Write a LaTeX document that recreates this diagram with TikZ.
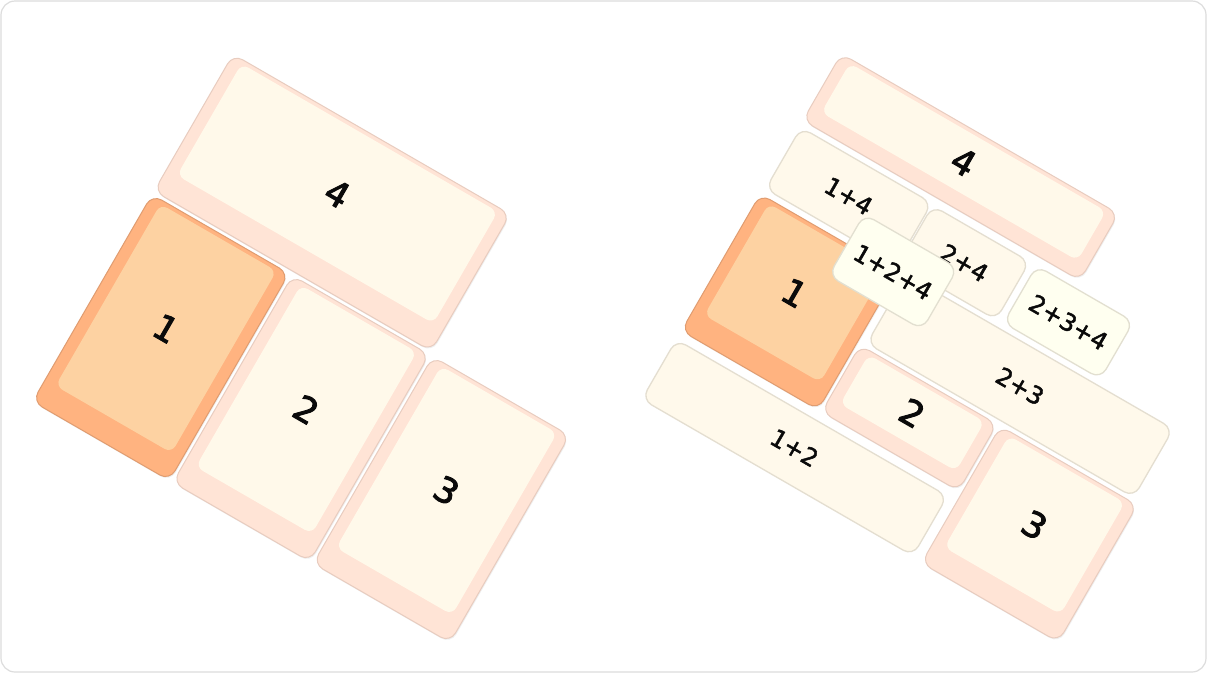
\documentclass[tikz,border=0pt]{standalone}
\usepackage{fontspec}
\setmainfont{DejaVu Sans}
\newfontfamily\keyfont[FakeBold=2.6]{DejaVu Sans}
\newfontfamily\combfont[FakeBold=2.0]{DejaVu Sans}
\usetikzlibrary{shadows}
\definecolor{kout}{HTML}{FFE4D6}
\definecolor{koutd}{HTML}{E8CCBF}
\definecolor{kin}{HTML}{FFF9EA}
\definecolor{oout}{HTML}{FFB380}
\definecolor{ooutd}{HTML}{E09C70}
\definecolor{oin}{HTML}{FDD2A2}
\definecolor{cb}{HTML}{FFF9EB}
\definecolor{cbd}{HTML}{E4DED0}
\definecolor{cbb}{HTML}{FFFFF0}
\definecolor{cbbd}{HTML}{E2DFD0}
\definecolor{frame}{HTML}{DDDDDD}
\definecolor{ink}{HTML}{0A0A0A}
\newcommand{\kdigitfont}{\keyfont\fontsize{35}{42}\selectfont}
\newcommand{\kcombofont}{\combfont\fontsize{24}{28}\selectfont}
\tikzset{
  keybase/.style={rectangle, inner sep=0pt, outer sep=0pt, transform shape},
  keyout/.style={keybase, draw=koutd, fill=kout, line width=1pt, rounded corners=11pt,
    drop shadow={opacity=0.12, shadow xshift=0.8pt, shadow yshift=-1.4pt}},
  keyin/.style={keybase, fill=kin, rounded corners=8pt},
  orgout/.style={keyout, draw=ooutd, fill=oout},
  orgin/.style={keyin, fill=oin},
  combo/.style={keybase, draw=cbd, fill=cb, line width=1.3pt, rounded corners=11pt},
  combob/.style={combo, draw=cbbd, fill=cbb},
  digitlabel/.style={inner sep=0pt, transform shape, font=\kdigitfont, text=ink},
  combolabel/.style={inner sep=0pt, transform shape, font=\kcombofont, text=ink},
}
% #1 name, #2 u, #3 v, #4 w, #5 h, #6 style prefix, #7 bottom inset, #8 label
\newcommand{\kcap}[8]{%
  \node[#6out, minimum width=#4pt, minimum height=#5pt] (#1) at (#2,-#3) {};
  \node[#6in, minimum width={#4pt-24pt}, minimum height={#5pt-4pt-#7pt}] (#1f) at (#2,{-#3+(#7-4)/2}) {};
  \node[digitlabel] (#1t) at (#1f.center) {#8};
}
% #1 name, #2 u, #3 v, #4 w, #5 h, #6 style, #7 label
\newcommand{\kcombo}[7]{%
  \node[#6, minimum width=#4pt, minimum height=#5pt] (#1) at (#2,-#3) {};
  \node[combolabel] (#1t) at (#1.center) {#7};
}
\begin{document}
\begin{tikzpicture}[x=1pt,y=1pt]
  \useasboundingbox (0,0) rectangle (1207,-673);
  \fill[white] (0,0) rectangle (1207,-673);
  \draw[frame, line width=1.2pt, rounded corners=14pt] (1,-1) rectangle (1206,-672);

  % left group
  \begin{scope}[shift={(151.35,-191.8)}, rotate=-30]
    \kcap{lfour}{162}{-81}{320}{158}{key}{25}{4}
    \kcap{lone}{81}{121.5}{158}{239}{org}{25}{1}
    \kcap{ltwo}{243}{121.5}{158}{239}{key}{25}{2}
    \kcap{lthree}{405}{121.5}{158}{239}{key}{25}{3}
  \end{scope}

  % right group
  \begin{scope}[shift={(840.6,-51)}, rotate=-30]
    \kcap{rfour}{162}{40.5}{320}{77}{key}{16}{4}
    \kcombo{c14}{79.5}{121.5}{151}{71}{combo}{1+4}
    \kcombo{c24}{213}{121.5}{112}{67}{combo}{2+4}
    \kcombo{c234}{333}{121}{112}{66}{combob}{2+3+4}
    \kcap{rone}{81}{243}{158}{158}{org}{25}{1}
    \kcombo{c23}{323}{200.5}{308}{79}{combo}{2+3}
    \kcap{rtwo}{243}{283.5}{158}{77}{key}{16}{2}
    \kcap{rthree}{405}{324}{158}{158}{key}{25}{3}
    \kcombo{c12}{158.5}{366.5}{313}{69}{combo}{1+2}
    \kcombo{c124}{156}{165}{108}{71}{combob}{1+2+4}
  \end{scope}
\end{tikzpicture}
\end{document}
